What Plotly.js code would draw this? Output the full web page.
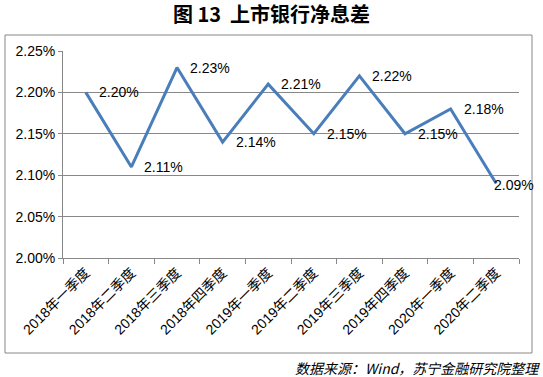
<!DOCTYPE html>
<html><head><meta charset="utf-8">
<script src="https://cdn.plot.ly/plotly-3.0.1.min.js"></script>
<style>body{margin:0;background:#fff}#c{width:543px;height:377px}</style>
</head><body><div id="c"></div>
<script>
const categories = ["2018年一季度","2018年二季度","2018年三季度","2018年四季度","2019年一季度","2019年二季度","2019年三季度","2019年四季度","2020年一季度","2020年二季度"];
const nim = [2.20, 2.11, 2.23, 2.14, 2.21, 2.15, 2.22, 2.15, 2.18, 2.09];
const labels = nim.map(v => v.toFixed(2) + "%");

const F = "'Liberation Sans', 'Noto Sans CJK SC', sans-serif";
const L = 63, R = 24, T = 51, B = 119;
const W = 543 - L - R, H = 377 - T - B;
const px = x => (x - L) / W, py = y => (377 - B - y) / H;

const dataLabels = categories.map((c, i) => {
  const last = i === categories.length - 1;
  return {
    x: c, y: nim[i], xref: "x", yref: "y", text: labels[i], showarrow: false,
    xanchor: "left", yanchor: "middle", xshift: last ? -4 : 11, yshift: last ? -2 : 0,
    font: {family: F, size: 14, color: "#000"}
  };
});

Plotly.newPlot("c", [{
  x: categories, y: nim, type: "scatter", mode: "lines",
  line: {color: "#4A7EBB", width: 3}, hoverinfo: "none"
}], {
  width: 543, height: 377, showlegend: false,
  margin: {l: L, r: R, t: T, b: B},
  paper_bgcolor: "#fff", plot_bgcolor: "#fff",
  title: {text: "<b>图 13  上市银行净息差</b>", x: 0.5, xanchor: "center", y: 1 - 15/377, yanchor: "middle",
          font: {family: "'Noto Sans CJK SC', sans-serif", size: 20, color: "#000"}},
  xaxis: {type: "category", range: [-0.5, categories.length - 0.5], autorange: false,
          tickangle: -45, tickson: "boundaries", ticks: "outside", ticklen: 5, tickcolor: "#888",
          showline: true, linecolor: "#888", linewidth: 1, showgrid: false,
          tickfont: {family: F, size: 14, color: "#000"}},
  yaxis: {range: [2.00, 2.25], autorange: false, dtick: 0.05, tick0: 2.0, tickformat: ".2f", ticksuffix: "%",
          ticks: "outside", ticklen: 4, tickcolor: "#888", showline: true, linecolor: "#888",
          gridcolor: "#888", gridwidth: 1, zeroline: false,
          tickfont: {family: F, size: 14, color: "#000"}},
  shapes: [{type: "rect", xref: "paper", yref: "paper", x0: px(5), x1: px(532), y0: py(353), y1: py(35),
            line: {color: "#888", width: 1}}],
  annotations: dataLabels.concat([{text: "<i>数据来源：Wind，苏宁金融研究院整理</i>", xref: "paper", yref: "paper",
                 x: px(542), y: py(368), xanchor: "right", yanchor: "middle", showarrow: false,
                 font: {family: "'Noto Sans CJK SC', sans-serif", size: 14, color: "#000"}}])
}, {staticPlot: true});
</script></body></html>
